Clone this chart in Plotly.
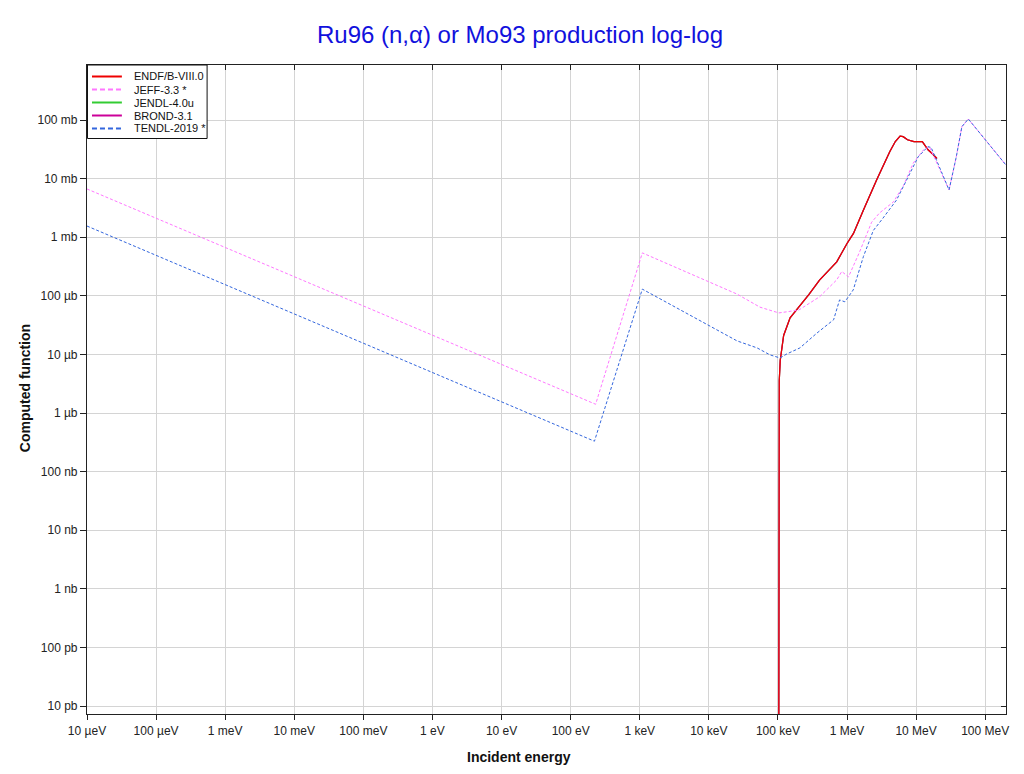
import plotly.graph_objects as go
import numpy as np

# ---------------- data (energies in eV, cross sections in barns) ----------------
endf_E = [1.022e5, 1.025e5, 1.032e5, 1.04e5, 1.046e5, 1.08e5, 1.21e5, 1.5e5, 2.0e5, 2.8e5, 4.0e5,
          7.1e5, 1.0e6, 1.24e6, 1.73e6, 2.68e6, 4.17e6, 5.0e6, 5.86e6, 6.5e6, 7.5e6, 9.3e6,
          1.23e7, 1.49e7, 1.75e7, 2.0e7]
endf_S = [1e-14, 1e-11, 1e-8, 1e-7, 3.6e-6, 7.9e-6, 2.1e-5, 4.2e-5, 6.3e-5, 1.05e-4, 1.85e-4,
          3.8e-4, 7.8e-4, 1.16e-3, 2.9e-3, 9.5e-3, 2.9e-2, 4.3e-2, 5.3e-2, 5.2e-2, 4.6e-2, 4.27e-2,
          4.27e-2, 3.1e-2, 2.6e-2, 2.2e-2]

jeff_E = [1e-5, 230, 1.09e3, 2.56e4, 5.5e4, 1.03e5, 2.0e5, 4.0e5, 7.1e5, 8.4e5, 1.05e6, 1.5e6,
          2.27e6, 2.96e6, 4.7e6, 6.6e6, 9.1e6, 1.28e7, 1.56e7, 3.0e7, 3.8e7, 4.6e7, 5.7e7, 2.0e8]
jeff_S = [6.65e-3, 1.41e-6, 5.4e-4, 1.07e-4, 6.4e-5, 5.1e-5, 5.7e-5, 9.6e-5, 1.87e-4, 2.6e-4,
          2.1e-4, 5.4e-4, 1.8e-3, 2.6e-3, 4.0e-3, 7.7e-3, 1.85e-2, 3.1e-2, 3.5e-2, 6.4e-3,
          2.3e-2, 7.7e-2, 0.104, 0.017]

tendl_E = [1e-5, 221, 1.09e3, 2.56e4, 5.0e4, 7.7e4, 1.07e5, 1.35e5, 2.08e5, 3.65e5, 6.4e5, 7.8e5,
           9.3e5, 1.23e6, 1.73e6, 2.4e6, 3.3e6, 5.2e6, 7.3e6, 1.07e7, 1.48e7, 1.65e7, 3.0e7,
           3.8e7, 4.6e7, 5.7e7, 2.0e8]
tendl_S = [1.55e-3, 3.3e-7, 1.3e-4, 1.7e-5, 1.29e-5, 9.8e-6, 8.7e-6, 1.02e-5, 1.29e-5, 2.3e-5,
           3.9e-5, 8.5e-5, 7.9e-5, 1.26e-4, 4.7e-4, 1.3e-3, 2.1e-3, 4.3e-3, 9.5e-3, 2.35e-2,
           3.5e-2, 3.4e-2, 6.4e-3, 2.3e-2, 7.7e-2, 0.104, 0.017]

# JENDL-4.0u and BROND-3.1 coincide with ENDF/B-VIII.0 and lie hidden under it
jendl_E, jendl_S = endf_E, endf_S
brond_E, brond_S = endf_E, endf_S

x_tickvals = [1e-5, 1e-4, 1e-3, 1e-2, 1e-1, 1, 10, 100, 1e3, 1e4, 1e5, 1e6, 1e7, 1e8]
x_ticktext = ["10 µeV", "100 µeV", "1 meV", "10 meV", "100 meV", "1 eV", "10 eV", "100 eV",
              "1 keV", "10 keV", "100 keV", "1 MeV", "10 MeV", "100 MeV"]
y_tickvals = [1e-1, 1e-2, 1e-3, 1e-4, 1e-5, 1e-6, 1e-7, 1e-8, 1e-9, 1e-10, 1e-11]
y_ticktext = ["100 mb", "10 mb", "1 mb", "100 µb", "10 µb", "1 µb", "100 nb", "10 nb",
              "1 nb", "100 pb", "10 pb"]

legend_names = ["ENDF/B-VIII.0", "JEFF-3.3 *", "JENDL-4.0u", "BROND-3.1", "TENDL-2019 *"]
legend_colors = ["#ee0000", "#ff77ff", "#33cc33", "#cc0099", "#3366dd"]
legend_dash = ["solid", "5px,3px", "solid", "solid", "5px,3px"]

# ---------------- figure ----------------
# the page body has an 8px margin, so the figure starts at page pixel (8, 8)
OX, OY = 8, 8
W, H = 1008, 758
# plot area in page pixels: x 87..1009, y 65..714
PL, PR, PT, PB = 87, 1009, 65, 714
L, R, T, B = PL - OX, (OX + W) - PR, PT - OY, (OY + H) - PB
xr = [np.log10(1e-5), np.log10(2e8)]
yr = [-11.1365, -0.0615]

fig = go.Figure()
fig.add_trace(go.Scatter(x=jendl_E, y=jendl_S, mode="lines", name=legend_names[2],
                         line=dict(color=legend_colors[2], width=1.2)))
fig.add_trace(go.Scatter(x=brond_E, y=brond_S, mode="lines", name=legend_names[3],
                         line=dict(color=legend_colors[3], width=1.2)))
fig.add_trace(go.Scatter(x=endf_E, y=endf_S, mode="lines", name=legend_names[0],
                         line=dict(color=legend_colors[0], width=1.2)))
fig.add_trace(go.Scatter(x=jeff_E, y=jeff_S, mode="lines", name=legend_names[1],
                         line=dict(color=legend_colors[1], width=1, dash="3px,2px")))
fig.add_trace(go.Scatter(x=tendl_E, y=tendl_S, mode="lines", name=legend_names[4],
                         line=dict(color=legend_colors[4], width=1, dash="3px,2px")))
# empty trace for the mirrored (inside) ticks on top / right
fig.add_trace(go.Scatter(x=[], y=[], xaxis="x2", yaxis="y2", showlegend=False, hoverinfo="skip"))

FONT = "Liberation Sans, Arial, sans-serif"
tickfont = dict(family=FONT, size=12, color="#222222")
fig.update_layout(
    width=W, height=H, autosize=False,
    margin=dict(l=L, r=R, t=T, b=B, pad=0),
    paper_bgcolor="white", plot_bgcolor="white",
    showlegend=False,
    title=dict(text="Ru96 (n,α) or Mo93 production log-log", x=(520 - OX) / W, xref="container",
               xanchor="center", y=1 - (35 - OY) / H, yref="container", yanchor="middle",
               font=dict(family=FONT, size=24, color="#1111dd")),
    xaxis=dict(type="log", range=xr, tickvals=x_tickvals, ticktext=x_ticktext,
               showgrid=True, gridcolor="#d4d4d4", gridwidth=1,
               showline=True, linecolor="#222222", linewidth=1.2,
               ticks="outside", ticklen=5, tickcolor="#222222", tickwidth=1.2,
               tickfont=tickfont, zeroline=False),
    yaxis=dict(type="log", range=yr, tickvals=y_tickvals, ticktext=y_ticktext,
               showgrid=True, gridcolor="#d4d4d4", gridwidth=1,
               showline=True, linecolor="#222222", linewidth=1.2,
               ticks="outside", ticklen=6, tickcolor="#222222", tickwidth=1.2,
               tickfont=tickfont, zeroline=False),
    xaxis2=dict(type="log", range=xr, tickvals=x_tickvals, overlaying="x", side="top",
                anchor="y", showticklabels=False, showgrid=False, ticks="inside", ticklen=5,
                tickcolor="#222222", tickwidth=1.2, showline=True, linecolor="#222222",
                linewidth=1.2, zeroline=False),
    yaxis2=dict(type="log", range=yr, tickvals=y_tickvals, overlaying="y", side="right",
                anchor="x", showticklabels=False, showgrid=False, ticks="inside", ticklen=5,
                tickcolor="#222222", tickwidth=1.2, showline=True, linecolor="#222222",
                linewidth=1.2, zeroline=False),
)

pw, ph = PR - PL, PB - PT
def px(xp):
    return (xp - PL) / pw
def py(yp):
    return (PB - yp) / ph

# axis titles
fig.add_annotation(text="<b>Incident energy</b>", xref="paper", yref="paper",
                   x=px(520), y=py(757), xanchor="center", yanchor="middle", showarrow=False,
                   font=dict(family=FONT, size=14, color="#111111"))
fig.add_annotation(text="<b>Computed function</b>", xref="paper", yref="paper",
                   x=px(25), y=py(388), xanchor="center", yanchor="middle", showarrow=False,
                   textangle=-90, font=dict(family=FONT, size=14, color="#111111"))

# custom legend box
fig.add_shape(type="rect", xref="paper", yref="paper", x0=px(87.5), x1=px(207.5),
              y0=py(138.5), y1=py(65), line=dict(color="#111111", width=1), fillcolor="white")
rows = [76.5, 89.5, 102.5, 115.5, 128.5]
for name, col, dsh, yy in zip(legend_names, legend_colors, legend_dash, rows):
    fig.add_shape(type="line", xref="paper", yref="paper", x0=px(92), x1=px(122),
                  y0=py(yy), y1=py(yy), line=dict(color=col, width=2, dash=dsh))
    fig.add_annotation(text=name, xref="paper", yref="paper", x=px(132), y=py(yy),
                       xanchor="left", yanchor="middle", showarrow=False,
                       font=dict(family=FONT, size=11, color="#111111"))

fig.write_html("out.html")
